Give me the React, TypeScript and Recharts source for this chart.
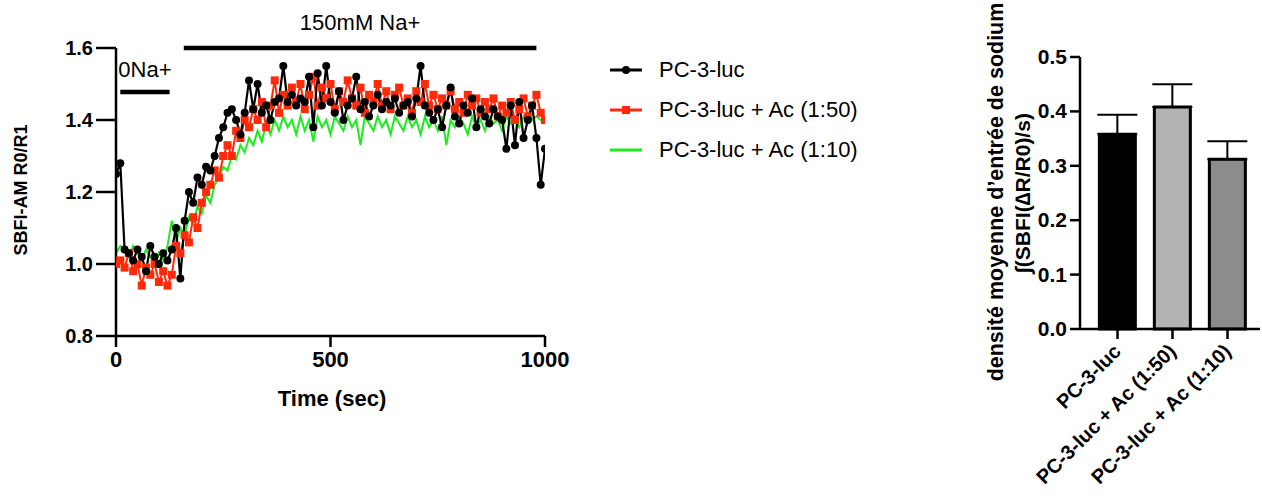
import React from 'react';
import {
  LineChart,
  Line,
  BarChart,
  Bar,
  Cell,
  ErrorBar,
  XAxis,
  YAxis,
  ReferenceLine,
} from 'recharts';

// time points (sec), one every 10 s
const times = [
  0, 10, 20, 30, 40, 50, 60, 70, 80, 90, 100, 110, 120, 130, 140, 150, 160, 170, 180, 190, 200,
  210, 220, 230, 240, 250, 260, 270, 280, 290, 300, 310, 320, 330, 340, 350, 360, 370, 380, 390, 400,
  410, 420, 430, 440, 450, 460, 470, 480, 490, 500, 510, 520, 530, 540, 550, 560, 570, 580, 590, 600,
  610, 620, 630, 640, 650, 660, 670, 680, 690, 700, 710, 720, 730, 740, 750, 760, 770, 780, 790, 800,
  810, 820, 830, 840, 850, 860, 870, 880, 890, 900, 910, 920, 930, 940, 950, 960, 970, 980, 990, 1000,
];

const pc3luc = [
  1.25, 1.28, 1.04, 1.03, 1.01, 1.04, 1.02, 0.98, 1.05, 1.02, 1.0, 1.03, 1.01, 1.04, 1.1, 0.96, 1.12, 1.2, 1.17, 1.24, 1.22,
  1.27, 1.26, 1.3, 1.35, 1.38, 1.42, 1.43, 1.4, 1.36, 1.42, 1.51, 1.43, 1.5, 1.42, 1.44, 1.4, 1.45, 1.46, 1.55, 1.45,
  1.47, 1.44, 1.46, 1.45, 1.52, 1.38, 1.53, 1.44, 1.55, 1.45, 1.42, 1.48, 1.4, 1.44, 1.46, 1.52, 1.43, 1.45, 1.41, 1.44,
  1.47, 1.43, 1.45, 1.44, 1.46, 1.42, 1.44, 1.45, 1.41, 1.46, 1.55, 1.44, 1.42, 1.4, 1.43, 1.38, 1.44, 1.49, 1.41, 1.39,
  1.44, 1.42, 1.46, 1.38, 1.43, 1.41, 1.39, 1.43, 1.41, 1.4, 1.32, 1.44, 1.33, 1.45, 1.35, 1.4, 1.44, 1.35, 1.22, 1.32,
];

const pc3lucAc50 = [
  1.0, 1.01, 0.99, 1.03, 0.98, 1.0, 0.94, 0.99, 0.97, 1.0, 0.95, 0.98, 0.94, 0.97, 1.05, 1.03, 1.08, 1.06, 1.13, 1.1, 1.17,
  1.2, 1.22, 1.26, 1.24, 1.3, 1.33, 1.3, 1.37, 1.35, 1.4, 1.38, 1.43, 1.4, 1.45, 1.38, 1.44, 1.51, 1.42, 1.47, 1.44,
  1.49, 1.45, 1.5, 1.43, 1.47, 1.52, 1.44, 1.49, 1.46, 1.5, 1.43, 1.48, 1.45, 1.51, 1.46, 1.44, 1.49, 1.42, 1.47, 1.45,
  1.5, 1.44, 1.48, 1.43, 1.47, 1.49, 1.44, 1.46, 1.42, 1.48, 1.45, 1.5, 1.44, 1.47, 1.43, 1.46, 1.44, 1.48, 1.43, 1.45,
  1.42, 1.47, 1.44, 1.46, 1.42, 1.45, 1.43, 1.46, 1.41, 1.44, 1.42, 1.45, 1.4, 1.43, 1.46, 1.41, 1.44, 1.47, 1.42, 1.4,
];

const pc3lucAc10 = [
  1.03, 1.05, 1.04, 1.02, 1.05, 1.03, 1.01, 1.04, 1.02, 1.0, 1.03, 1.01, 1.05, 1.12, 1.06, 1.1, 1.08, 1.13, 1.11, 1.16, 1.14,
  1.19, 1.17, 1.22, 1.24, 1.27, 1.26, 1.3, 1.29, 1.33, 1.31, 1.35, 1.33, 1.37, 1.34, 1.39, 1.36, 1.4, 1.37, 1.41, 1.38,
  1.4, 1.36, 1.41, 1.37, 1.4, 1.34, 1.41, 1.38, 1.4, 1.36, 1.41, 1.39, 1.37, 1.41, 1.38, 1.4, 1.33, 1.41, 1.39, 1.37,
  1.41, 1.38, 1.4, 1.36, 1.41, 1.39, 1.37, 1.41, 1.38, 1.4, 1.36, 1.41, 1.38, 1.4, 1.37, 1.41, 1.33, 1.4, 1.38, 1.41,
  1.39, 1.36, 1.41, 1.38, 1.4, 1.37, 1.41, 1.39, 1.4, 1.37, 1.41, 1.39, 1.4, 1.38, 1.41, 1.39, 1.4, 1.41, 1.4, 1.41,
];

const seriesNames = ['PC-3-luc', 'PC-3-luc + Ac (1:50)', 'PC-3-luc + Ac (1:10)'];
const seriesColors = ['#000000', '#ff2a0a', '#1aee1a'];

// bar chart (mean + upper SEM)
const barCategories = ['PC-3-luc', 'PC-3-luc + Ac (1:50)', 'PC-3-luc + Ac (1:10)'];
const barMeans = [0.358, 0.408, 0.312];
const barErrors = [0.036, 0.042, 0.033];
const barFills = ['#000000', '#b3b3b3', '#8c8c8c'];

const timeTicks = [0, 500, 1000];
const ratioTicks = [0.8, 1.0, 1.2, 1.4, 1.6];
const densityTicks = [0, 0.1, 0.2, 0.3, 0.4, 0.5];

const lineData = times.map((t, i) => ({
  t,
  a: pc3luc[i],
  b: pc3lucAc50[i],
  c: pc3lucAc10[i],
}));

const barData = barCategories.map((name, i) => ({
  name,
  value: barMeans[i],
  err: [0, barErrors[i]],
}));

const FONT = 'Arial, "Liberation Sans", Helvetica, sans-serif';

const XNumTick = (props: any) => {
  const { x, y, payload } = props;
  return (
    <text x={x} y={y + 18} textAnchor="middle" style={{ fontSize: 22, fontWeight: 700, fontFamily: FONT }} fill="#000">
      {payload.value}
    </text>
  );
};

const YNumTick = (props: any) => {
  const { x, y, payload, fs } = props;
  return (
    <text x={x - 1} y={y + 7} textAnchor="end" style={{ fontSize: fs || 20, fontWeight: 700, fontFamily: FONT }} fill="#000">
      {Number(payload.value).toFixed(1)}
    </text>
  );
};

const SquareDot = (props: any) => {
  const { cx, cy, index } = props;
  if (cx == null || cy == null) return null;
  return <rect key={`sq-${index}`} x={cx - 4} y={cy - 4} width={8} height={8} fill={seriesColors[1]} />;
};

const RotatedTick = (props: any) => {
  const { x, y, payload } = props;
  return (
    <g transform={`translate(${x - 1},${y + 6})`}>
      <text
        x={0}
        y={0}
        dy={8}
        textAnchor="end"
        transform="rotate(-45)"
        style={{ fontSize: 20, fontWeight: 700, fontFamily: FONT }}
        fill="#000"
      >
        {payload.value}
      </text>
    </g>
  );
};

const LegendRow = ({ i }: { i: number }) => (
  <div style={{ display: 'flex', alignItems: 'center', height: 40 }}>
    <svg width={42} height={20}>
      <line x1={4} y1={10} x2={36} y2={10} stroke={seriesColors[i]} strokeWidth={3} />
      {i === 0 && <circle cx={20} cy={10} r={4} fill="#000" />}
      {i === 1 && <rect x={16} y={6} width={8} height={8} fill={seriesColors[1]} />}
    </svg>
    <span style={{ marginLeft: 11, fontSize: 22, fontFamily: FONT, color: '#000' }}>{seriesNames[i]}</span>
  </div>
);

export default function App() {
  return (
    <div style={{ position: 'absolute', left: 0, top: 0, width: 1262, height: 497, background: '#fff' }}>
      <div style={{ position: 'absolute', left: 0, top: 0 }}>
        <LineChart
          width={600}
          height={497}
          data={lineData}
          margin={{ top: 48, right: 55, left: 0, bottom: 101 }}
        >
          <XAxis
            dataKey="t"
            type="number"
            domain={[0, 1000]}
            ticks={timeTicks}
            tick={<XNumTick />}
            tickSize={11}
            height={60}
            stroke="#000"
            strokeWidth={2.5}
            allowDataOverflow
          />
          <YAxis
            type="number"
            domain={[0.8, 1.6]}
            ticks={ratioTicks}
            tick={<YNumTick fs={20} />}
            tickSize={20}
            width={116}
            stroke="#000"
            strokeWidth={2.5}
            allowDataOverflow
          />
          <ReferenceLine
            segment={[{ x: 158, y: 1.6 }, { x: 980, y: 1.6 }]}
            stroke="#000"
            strokeWidth={4.5}
            label={{ value: '150mM Na+', position: 'top', offset: 18, fill: '#000', fontSize: 22, fontFamily: FONT }}
          />
          <ReferenceLine
            segment={[{ x: 10, y: 1.478 }, { x: 125, y: 1.478 }]}
            stroke="#000"
            strokeWidth={4.5}
            label={{ value: '0Na+', position: 'top', offset: 15, fill: '#000', fontSize: 22, fontFamily: FONT }}
          />
          <Line
            dataKey="c"
            stroke={seriesColors[2]}
            strokeWidth={2}
            dot={false}
            type="linear"
            isAnimationActive={false}
          />
          <Line
            dataKey="b"
            stroke={seriesColors[1]}
            strokeWidth={2}
            dot={<SquareDot />}
            type="linear"
            isAnimationActive={false}
          />
          <Line
            dataKey="a"
            stroke="#000"
            strokeWidth={2.2}
            dot={{ r: 4, fill: '#000', stroke: '#000', strokeWidth: 0 }}
            type="linear"
            isAnimationActive={false}
          />
        </LineChart>
      </div>

      <svg width={600} height={497} style={{ position: 'absolute', left: 0, top: 0, pointerEvents: 'none' }}>
        <text
          transform="translate(27,190) rotate(-90)"
          textAnchor="middle"
          style={{ fontSize: 18, fontWeight: 700, fontFamily: FONT }}
          fill="#000"
        >
          SBFI-AM R0/R1
        </text>
        <text x={332} y={406} textAnchor="middle" style={{ fontSize: 22, fontWeight: 700, fontFamily: FONT }} fill="#000">
          Time (sec)
        </text>
      </svg>

      <div style={{ position: 'absolute', left: 606, top: 50 }}>
        <LegendRow i={0} />
        <LegendRow i={1} />
        <LegendRow i={2} />
      </div>

      <div style={{ position: 'absolute', left: 960, top: 0 }}>
        <BarChart
          width={302}
          height={497}
          data={barData}
          margin={{ top: 57, right: 2, left: 0, bottom: 68 }}
          barCategoryGap="17%"
        >
          <XAxis
            dataKey="name"
            tick={<RotatedTick />}
            interval={0}
            tickSize={10}
            height={100}
            stroke="#000"
            strokeWidth={2.5}
            padding={{ left: 10, right: 5 }}
          />
          <YAxis
            type="number"
            domain={[0, 0.5]}
            ticks={densityTicks}
            tick={<YNumTick fs={21} />}
            tickSize={10}
            width={120}
            stroke="#000"
            strokeWidth={2.5}
          />
          <Bar dataKey="value" stroke="#000" strokeWidth={3} isAnimationActive={false}>
            {barData.map((d, i) => (
              <Cell key={`c-${i}`} fill={barFills[i]} />
            ))}
            <ErrorBar dataKey="err" width={20} stroke="#000" strokeWidth={2} direction="y" />
          </Bar>
        </BarChart>
      </div>

      <svg width={302} height={497} style={{ position: 'absolute', left: 960, top: 0, pointerEvents: 'none' }}>
        <text
          transform="translate(43,192) rotate(-90)"
          textAnchor="middle"
          style={{ fontSize: 21.5, fontWeight: 700, fontFamily: FONT }}
          fill="#000"
        >
          densité moyenne d’entrée de sodium
        </text>
        <text
          transform="translate(70,193) rotate(-90)"
          textAnchor="middle"
          style={{ fontSize: 21, fontWeight: 700, fontFamily: FONT }}
          fill="#000"
        >
          ∫(SBFI(∆R/R0)/s)
        </text>
      </svg>
    </div>
  );
}
